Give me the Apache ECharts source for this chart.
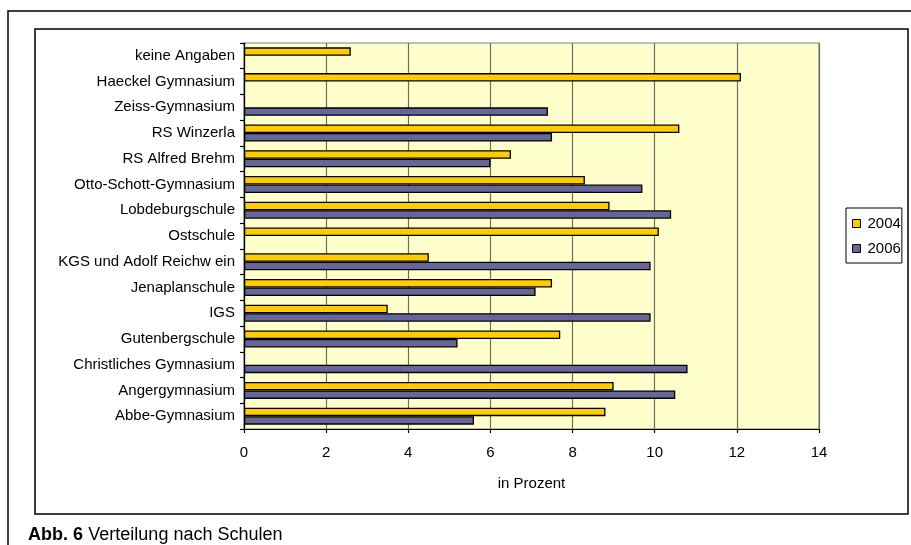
<!DOCTYPE html>
<html><head><meta charset="utf-8">
<script src="https://cdn.jsdelivr.net/npm/echarts@6/dist/echarts.min.js"></script>
<style>html,body{margin:0;padding:0;background:#fff}#c{width:911px;height:545px}</style>
</head><body><div id="c"></div>
<script>
const categories = ["keine Angaben","Haeckel Gymnasium","Zeiss-Gymnasium","RS Winzerla","RS Alfred Brehm","Otto-Schott-Gymnasium","Lobdeburgschule","Ostschule","KGS und Adolf Reichw ein","Jenaplanschule","IGS","Gutenbergschule","Christliches Gymnasium","Angergymnasium","Abbe-Gymnasium"];
const values2004 = [2.6, 12.1, null, 10.6, 6.5, 8.3, 8.9, 10.1, 4.5, 7.5, 3.5, 7.7, null, 9.0, 8.8];
const values2006 = [null, null, 7.4, 7.5, 6.0, 9.7, 10.4, null, 9.9, 7.1, 9.9, 5.2, 10.8, 10.5, 5.6];
const xTicks = {min: 0, max: 14, interval: 2};
const seriesNames = ["2004", "2006"];

const font = "Liberation Sans, Arial, sans-serif";
const chart = echarts.init(document.getElementById('c'), null, {renderer: 'canvas'});
chart.setOption({
  animation: false,
  backgroundColor: '#fff',
  textStyle: {fontFamily: font},
  graphic: [
    {type: 'rect', shape: {x: 8, y: 11, width: 920, height: 560}, style: {fill: 'none', stroke: '#000', lineWidth: 1.5}, z: -10},
    {type: 'rect', shape: {x: 35, y: 29, width: 873, height: 485}, style: {fill: 'none', stroke: '#000', lineWidth: 1.5}, z: -10},
    {type: 'text', left: 28, top: 526, style: {rich: {b: {fontWeight: 'bold', fontSize: 18, fontFamily: font, fill: '#000'}, n: {fontSize: 18, fontFamily: font, fill: '#000', padding: [0, 0, 0, 2]}}, text: '{b|Abb. 6} {n|Verteilung nach Schulen}'}}
  ],
  legend: {
    orient: 'vertical', left: 846, top: 208, width: 55,
    padding: [8, 1, 7, 6], itemGap: 10,
    borderColor: '#000', borderWidth: 1,
    itemWidth: 8, itemHeight: 8, icon: 'rect',
    textStyle: {fontSize: 15, color: '#000', fontFamily: font, padding: [0, 0, 0, 2]},
    data: seriesNames.map(n => ({name: n, itemStyle: {borderColor: '#000', borderWidth: 1}}))
  },
  grid: {left: 244, right: 92, top: 43, bottom: 116, show: true, backgroundColor: '#FFFFCC', borderColor: '#808080', borderWidth: 1.2},
  xAxis: {
    type: 'value', min: xTicks.min, max: xTicks.max, interval: xTicks.interval,
    name: 'in Prozent', nameLocation: 'middle', nameGap: 47,
    nameTextStyle: {fontSize: 15, color: '#000', fontFamily: font},
    axisLine: {show: true, lineStyle: {color: '#000', width: 1.2}},
    axisTick: {show: true, length: 4, lineStyle: {color: '#000', width: 1.2}},
    axisLabel: {fontSize: 15, color: '#000', margin: 16, fontFamily: font},
    splitLine: {show: true, lineStyle: {color: '#6e6e60', width: 1.2}}
  },
  yAxis: {
    type: 'category', inverse: true, data: categories,
    axisLine: {show: true, lineStyle: {color: '#000', width: 1.2}},
    axisTick: {show: true, length: 4, alignWithLabel: false, lineStyle: {color: '#000', width: 1.2}},
    axisLabel: {fontSize: 15, color: '#000', margin: 9, fontFamily: font},
    splitLine: {show: false}
  },
  series: [
    {name: seriesNames[0], type: 'bar', data: values2004, barGap: '0%', barCategoryGap: '34%',
     itemStyle: {color: '#FFCC00', borderColor: '#000', borderWidth: 1.3}},
    {name: seriesNames[1], type: 'bar', data: values2006, barGap: '0%', barCategoryGap: '34%',
     itemStyle: {color: '#666699', borderColor: '#000', borderWidth: 1.3}}
  ]
});
</script></body></html>
